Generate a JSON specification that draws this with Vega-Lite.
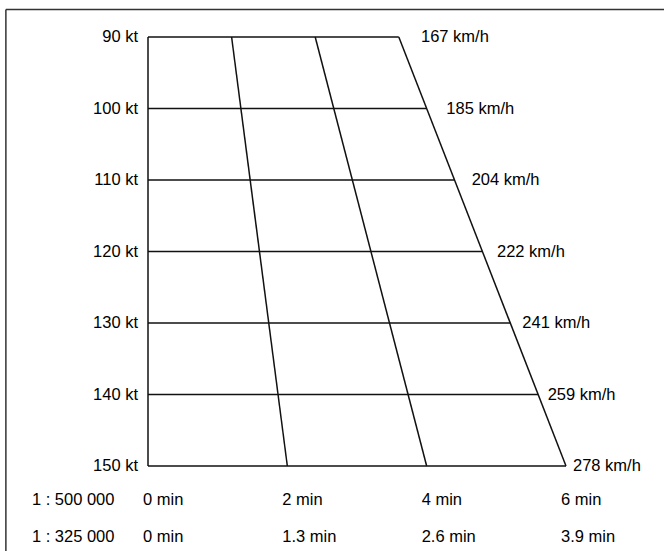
{
  "$schema": "https://vega.github.io/schema/vega-lite/v6.json",
  "width": 418,
  "height": 429,
  "autosize": "none",
  "padding": {"left": 148, "top": 37, "right": 98, "bottom": 85},
  "background": "white",
  "config": {"view": {"stroke": null}},
  "datasets": {
    "segments": [
      {"d0": 0, "d1": 540, "s0": 90, "s1": 90},
      {"d0": 0, "d1": 600, "s0": 100, "s1": 100},
      {"d0": 0, "d1": 660, "s0": 110, "s1": 110},
      {"d0": 0, "d1": 720, "s0": 120, "s1": 120},
      {"d0": 0, "d1": 780, "s0": 130, "s1": 130},
      {"d0": 0, "d1": 840, "s0": 140, "s1": 140},
      {"d0": 0, "d1": 900, "s0": 150, "s1": 150},
      {"d0": 0, "d1": 0, "s0": 90, "s1": 150},
      {"d0": 180, "d1": 300, "s0": 90, "s1": 150},
      {"d0": 360, "d1": 600, "s0": 90, "s1": 150},
      {"d0": 540, "d1": 900, "s0": 90, "s1": 150}
    ],
    "speeds": [
      {"kt": 90, "ktLabel": "90 kt", "kmh": "167 km/h"},
      {"kt": 100, "ktLabel": "100 kt", "kmh": "185 km/h"},
      {"kt": 110, "ktLabel": "110 kt", "kmh": "204 km/h"},
      {"kt": 120, "ktLabel": "120 kt", "kmh": "222 km/h"},
      {"kt": 130, "ktLabel": "130 kt", "kmh": "241 km/h"},
      {"kt": 140, "ktLabel": "140 kt", "kmh": "259 km/h"},
      {"kt": 150, "ktLabel": "150 kt", "kmh": "278 km/h"}
    ],
    "times": [
      {"d": 0, "t500": "0 min", "t325": "0 min"},
      {"d": 300, "t500": "2 min", "t325": "1.3 min"},
      {"d": 600, "t500": "4 min", "t325": "2.6 min"},
      {"d": 900, "t500": "6 min", "t325": "3.9 min"}
    ],
    "scales": [
      {"row": 1, "label": "1 : 500 000"},
      {"row": 2, "label": "1 : 325 000"}
    ]
  },
  "resolve": {"scale": {"x": "independent"}},
  "layer": [
    {
      "data": {"name": "segments"},
      "mark": {"type": "rule", "color": "#111111", "strokeWidth": 1.5},
      "encoding": {
        "x": {"field": "d0", "type": "quantitative", "scale": {"domain": [0, 900], "nice": false, "zero": false}, "axis": null},
        "x2": {"field": "d1"},
        "y": {"field": "s0", "type": "quantitative", "scale": {"domain": [90, 150], "reverse": true, "nice": false, "zero": false}, "axis": null},
        "y2": {"field": "s1"}
      }
    },
    {
      "data": {"name": "speeds"},
      "mark": {"type": "text", "align": "right", "baseline": "middle", "dx": -10, "font": "Liberation Sans", "fontSize": 16.5, "color": "#000000"},
      "encoding": {
        "x": {"datum": 0, "type": "quantitative", "scale": {"domain": [0, 900], "nice": false, "zero": false}, "axis": null},
        "y": {"field": "kt", "type": "quantitative", "scale": {"domain": [90, 150], "reverse": true, "nice": false, "zero": false}, "axis": null},
        "text": {"field": "ktLabel"}
      }
    },
    {
      "data": {"name": "speeds"},
      "mark": {"type": "text", "align": "left", "baseline": "middle", "font": "Liberation Sans", "fontSize": 16.5, "color": "#000000"},
      "encoding": {
        "x": {"field": "kt", "type": "quantitative", "scale": {"domain": [-17.76, 147.24], "nice": false, "zero": false}, "axis": null},
        "y": {"field": "kt", "type": "quantitative", "scale": {"domain": [90, 150], "reverse": true, "nice": false, "zero": false}, "axis": null},
        "text": {"field": "kmh"}
      }
    },
    {
      "data": {"name": "times"},
      "mark": {"type": "text", "align": "left", "baseline": "middle", "dx": -5, "font": "Liberation Sans", "fontSize": 16.5, "color": "#000000"},
      "encoding": {
        "x": {"field": "d", "type": "quantitative", "scale": {"domain": [0, 900], "nice": false, "zero": false}, "axis": null},
        "y": {"datum": 154.76, "type": "quantitative", "scale": {"domain": [90, 150], "reverse": true, "nice": false, "zero": false}, "axis": null},
        "text": {"field": "t500"}
      }
    },
    {
      "data": {"name": "times"},
      "mark": {"type": "text", "align": "left", "baseline": "middle", "dx": -5, "font": "Liberation Sans", "fontSize": 16.5, "color": "#000000"},
      "encoding": {
        "x": {"field": "d", "type": "quantitative", "scale": {"domain": [0, 900], "nice": false, "zero": false}, "axis": null},
        "y": {"datum": 159.93, "type": "quantitative", "scale": {"domain": [90, 150], "reverse": true, "nice": false, "zero": false}, "axis": null},
        "text": {"field": "t325"}
      }
    },
    {
      "data": {"name": "scales"},
      "transform": [{"filter": "datum.row == 1"}],
      "mark": {"type": "text", "align": "left", "baseline": "middle", "font": "Liberation Sans", "fontSize": 16.5, "color": "#000000"},
      "encoding": {
        "x": {"datum": -250, "type": "quantitative", "scale": {"domain": [0, 900], "nice": false, "zero": false}, "axis": null},
        "y": {"datum": 154.76, "type": "quantitative", "scale": {"domain": [90, 150], "reverse": true, "nice": false, "zero": false}, "axis": null},
        "text": {"field": "label"}
      }
    },
    {
      "data": {"name": "scales"},
      "transform": [{"filter": "datum.row == 2"}],
      "mark": {"type": "text", "align": "left", "baseline": "middle", "font": "Liberation Sans", "fontSize": 16.5, "color": "#000000"},
      "encoding": {
        "x": {"datum": -250, "type": "quantitative", "scale": {"domain": [0, 900], "nice": false, "zero": false}, "axis": null},
        "y": {"datum": 159.93, "type": "quantitative", "scale": {"domain": [90, 150], "reverse": true, "nice": false, "zero": false}, "axis": null},
        "text": {"field": "label"}
      }
    },
    {
      "data": {"values": [{}]},
      "mark": {"type": "rule", "color": "#333333", "strokeWidth": 1.5},
      "encoding": {
        "x": {"datum": -306, "type": "quantitative", "scale": {"domain": [0, 900], "nice": false, "zero": false}, "axis": null},
        "x2": {"datum": 1130},
        "y": {"datum": 86.15, "type": "quantitative", "scale": {"domain": [90, 150], "reverse": true, "nice": false, "zero": false}, "axis": null}
      }
    },
    {
      "data": {"values": [{}]},
      "mark": {"type": "rule", "color": "#333333", "strokeWidth": 1.5},
      "encoding": {
        "x": {"datum": -306, "type": "quantitative", "scale": {"domain": [0, 900], "nice": false, "zero": false}, "axis": null},
        "y": {"datum": 86.15, "type": "quantitative", "scale": {"domain": [90, 150], "reverse": true, "nice": false, "zero": false}, "axis": null},
        "y2": {"datum": 165}
      }
    }
  ]
}
